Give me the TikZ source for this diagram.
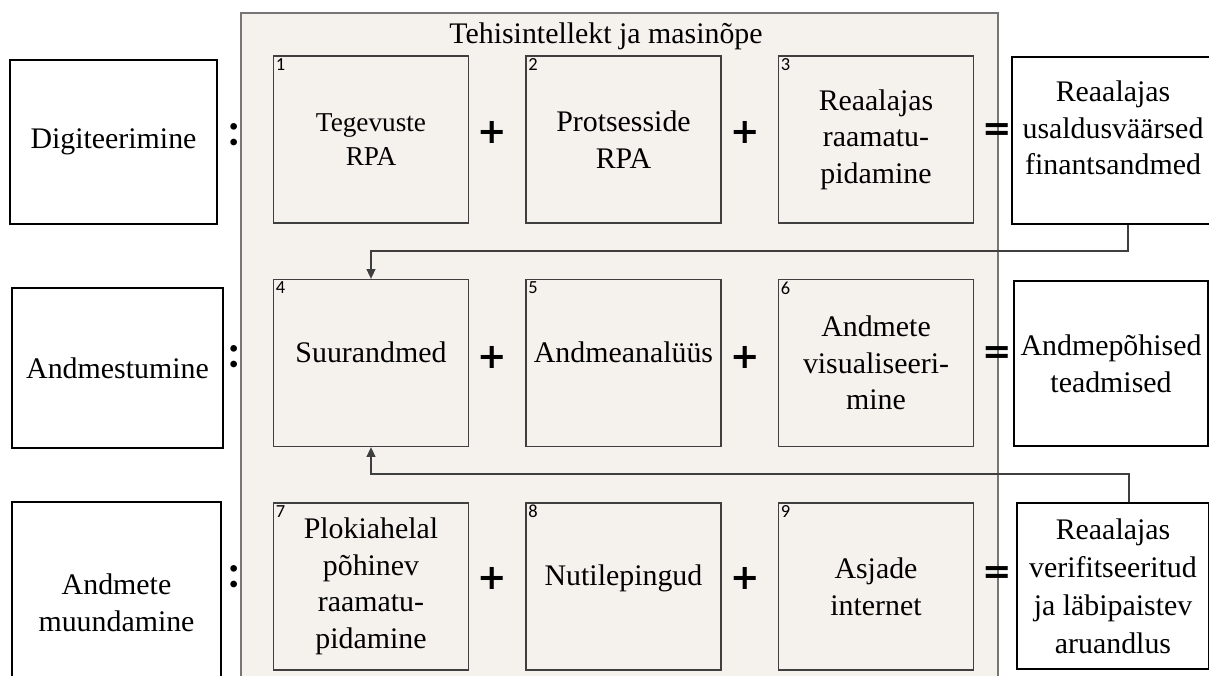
\documentclass[tikz,border=0pt]{standalone}
\usepackage{fontspec}
\setmainfont{Liberation Serif}
\newfontfamily\symfont{DejaVu Sans}
\newfontfamily\dotfont{Lato}
\newfontfamily\numfont{Carlito}
\usetikzlibrary{arrows.meta}

\definecolor{panelfill}{HTML}{F5F2EE}
\definecolor{panelline}{HTML}{767676}
\definecolor{boxline}{HTML}{3F3F3F}

\tikzset{
  bigtext/.style={font=\fontsize{17}{20.8}\selectfont},
  leftbox/.style={bigtext, draw=black, line width=1.4pt, fill=white, align=center, inner sep=0pt},
  inbox/.style={bigtext, draw=boxline, line width=0.75pt, minimum width=3.9cm, minimum height=3.34cm, align=center, inner sep=0pt},
  outbox/.style={bigtext, draw=black, line width=0.8pt, fill=white, align=center, inner sep=0pt},
  boxnum/.style={anchor=north west, inner sep=1.5pt, font=\numfont\fontsize{10.5}{11}\selectfont},
  opsign/.style={inner sep=0pt, font=\symfont\bfseries\fontsize{20}{20}\selectfont},
  colon/.style={inner sep=0pt, font=\dotfont\bfseries\fontsize{25}{25}\selectfont},
  lifted/.style={text depth=0.45cm},
  link/.style={draw=boxline, line width=0.75pt, -{Triangle[length=5.5pt,width=5pt]}},
}

\begin{document}
\begin{tikzpicture}
  \useasboundingbox (0,0) rectangle (24.18,-13.5);

  % Panel
  \fill[panelfill] (4.82,-0.26) rectangle (19.96,-14);
  \draw[panelline, line width=1pt] (4.82,-14) -- (4.82,-0.26) -- (19.96,-0.26) -- (19.96,-14);
  \node[bigtext, anchor=base] (title) at (12.12,-0.86) {Tehisintellekt ja masinõpe};

  % Left column
  \node[leftbox, minimum width=4.14cm, minimum height=3.28cm] (digi) at (2.27,-2.84) {Digiteerimine};
  \node[leftbox, minimum width=4.22cm, minimum height=3.2cm] (andm) at (2.35,-7.36) {Andmestumine};
  \node[leftbox, minimum width=4.18cm, minimum height=4.04cm] (muun) at (2.33,-12.06) {Andmete\\muundamine};

  % Row 1
  \node[inbox, font=\fontsize{15.5}{19}\selectfont] (b1) at (7.42,-2.79) {Tegevuste\\RPA};
  \node[inbox] (b2) at (12.47,-2.79) {Protsesside\\RPA};
  \node[inbox] (b3) at (17.52,-2.79) {Reaalajas\\raamatu-\\pidamine};

  % Row 2
  \node[inbox, lifted] (b4) at (7.42,-7.26) {Suurandmed};
  \node[inbox, lifted] (b5) at (12.47,-7.26) {Andmeanalüüs};
  \node[inbox] (b6) at (17.52,-7.26) {Andmete\\visualiseeri-\\mine};

  % Row 3
  \node[inbox] (b7) at (7.42,-11.73) {Plokiahelal\\põhinev\\raamatu-\\pidamine};
  \node[inbox, lifted] (b8) at (12.47,-11.73) {Nutilepingud};
  \node[inbox] (b9) at (17.52,-11.73) {Asjade\\internet};

  % Box numbers
  \node[boxnum] (n1) at (b1.north west) {1};
  \node[boxnum] (n2) at (b2.north west) {2};
  \node[boxnum] (n3) at (b3.north west) {3};
  \node[boxnum] (n4) at (b4.north west) {4};
  \node[boxnum] (n5) at (b5.north west) {5};
  \node[boxnum] (n6) at (b6.north west) {6};
  \node[boxnum] (n7) at (b7.north west) {7};
  \node[boxnum] (n8) at (b8.north west) {8};
  \node[boxnum] (n9) at (b9.north west) {9};

  % Results
  \node[outbox, minimum width=4.04cm, minimum height=3.34cm] (res1) at (22.26,-2.81) {};
  \node[bigtext, align=center] (res1txt) at (22.26,-2.56) {Reaalajas\\usaldusväärsed\\finantsandmed};
  \node[outbox, minimum width=3.88cm, minimum height=3.3cm] (res2) at (22.22,-7.27) {Andmepõhised\\teadmised};
  \node[outbox, minimum width=3.84cm, minimum height=3.32cm, font=\fontsize{17}{21.7}\selectfont] (res3) at (22.26,-11.72) {Reaalajas\\verifitseeritud\\ja läbipaistev\\aruandlus};

  % Feedback arrows
  \coordinate (bend1) at (7.42,-5.02);
  \draw[link] ([xshift=0.3cm]res1.south) |- (bend1) -- (b4.north);
  \coordinate (bend2) at (7.42,-9.48);
  \draw[link] ([xshift=0.32cm]res3.north) |- (bend2) -- (b4.south);

  % Colons
  \node[colon] (c1) at (4.68,-2.70) {:};
  \node[colon] (c2) at (4.68,-7.13) {:};
  \node[colon] (c3) at (4.68,-11.54) {:};

  % Plus and equals
  \node[opsign] (p1) at (9.84,-2.64) {+};
  \node[opsign] (p2) at (14.90,-2.64) {+};
  \node[opsign] (e1) at (19.94,-2.65) {=};
  \node[opsign] (p3) at (9.84,-7.14) {+};
  \node[opsign] (p4) at (14.90,-7.14) {+};
  \node[opsign] (e2) at (19.94,-7.10) {=};
  \node[opsign] (p5) at (9.84,-11.56) {+};
  \node[opsign] (p6) at (14.90,-11.56) {+};
  \node[opsign] (e3) at (19.94,-11.50) {=};
\end{tikzpicture}
\end{document}
